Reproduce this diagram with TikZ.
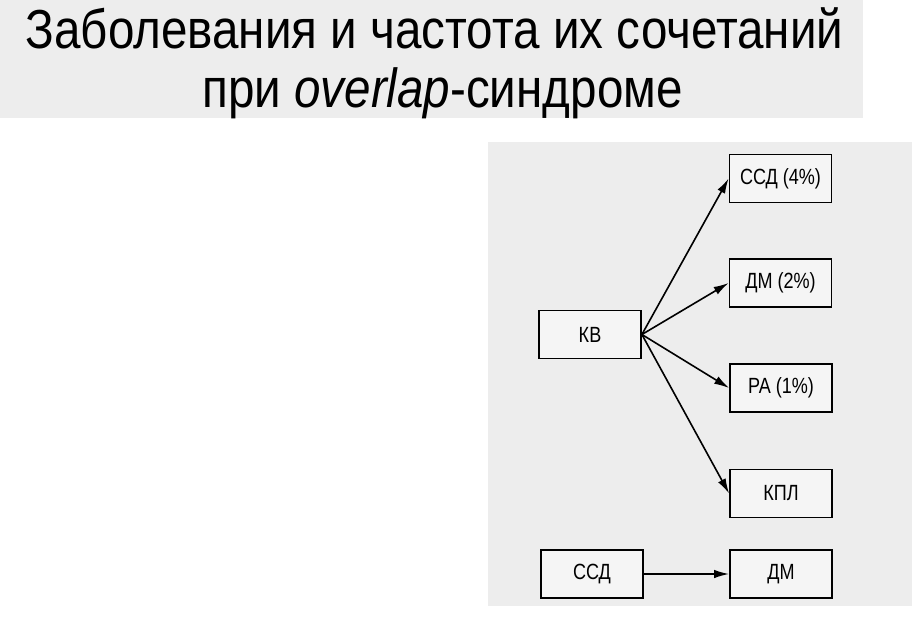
\documentclass[tikz,border=0pt]{standalone}
\usepackage{fontspec}
\setmainfont{Liberation Sans}
\newfontfamily\boxfont[FakeStretch=0.82]{Liberation Sans}
\newfontfamily\titlefont[FakeStretch=0.865]{Liberation Sans}
\usetikzlibrary{arrows.meta}
\tikzset{
  dbox/.style={draw=black, line width=1.8pt, minimum width=102pt, minimum height=48pt,
    inner sep=0pt, font=\boxfont\fontsize{22}{25}\selectfont, fill=black!4},
  conn/.style={draw=black, line width=1.6pt, -{Latex[length=15pt,width=8.5pt]}},
  band/.style={fill=black!7, draw=none},
  ttl/.style={anchor=base, inner sep=0pt, font=\titlefont\fontsize{55}{64}\selectfont}
}
\begin{document}
\begin{tikzpicture}[x=1pt,y=-1pt]
\useasboundingbox (0,0) rectangle (912,617);
\fill[white] (0,0) rectangle (912,617);
\path[band] (0,0) rectangle (863,118);
\path[band] (488,142) rectangle (912,606);
\node[ttl] (t1) at (434.5,49) {Заболевания и частота их сочетаний};
\node[ttl] (t2) at (442.5,108) {при \textit{overlap}-синдроме};
\node[dbox] (kv)   at (590,334.5) {КВ};
\node[dbox] (ssd4) at (780.5,178.5) {ССД (4\%)};
\node[dbox] (dm2)  at (780.5,283) {ДМ (2\%)};
\node[dbox] (ra)   at (781,388) {РА (1\%)};
\node[dbox] (kpl)  at (781,493.5) {КПЛ};
\node[dbox] (ssd)  at (592,574) {ССД};
\node[dbox] (dm)   at (781,574) {ДМ};
\draw[conn] (kv.east) -- (ssd4.west);
\draw[conn] (kv.east) -- (dm2.west);
\draw[conn] (kv.east) -- (ra.west);
\draw[conn] (kv.east) -- (kpl.west);
\draw[conn] (ssd.east) -- (dm.west);
\end{tikzpicture}
\end{document}
